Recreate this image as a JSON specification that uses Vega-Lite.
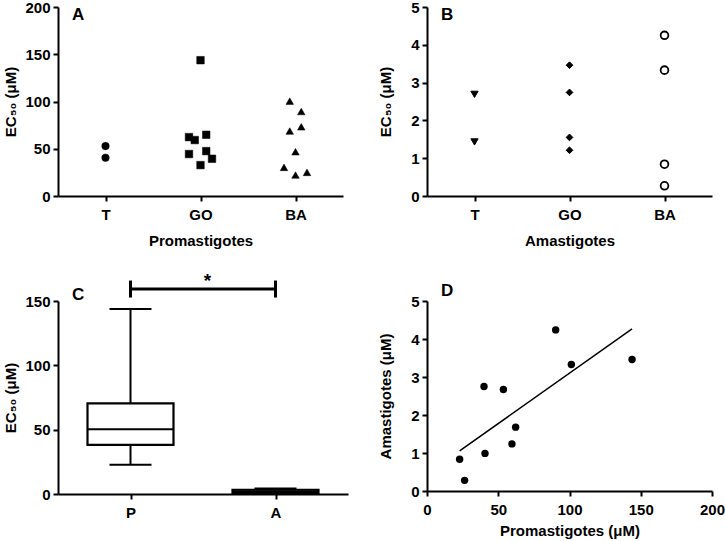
{
  "$schema": "https://vega.github.io/schema/vega-lite/v6.json",
  "background": "white",
  "padding": {"left": 3, "top": 0, "right": 2, "bottom": 2},
  "bounds": "flush",
  "columns": 2,
  "spacing": {"row": 105, "column": 79},
  "resolve": {"scale": {"shape": "independent", "size": "independent", "fill": "independent"}},
  "config": {
    "view": {"stroke": null},
    "font": "Liberation Sans",
    "axis": {
      "domainColor": "black", "domainWidth": 2, "tickColor": "black", "tickWidth": 2, "tickSize": 5,
      "labelFont": "Liberation Sans", "labelFontWeight": "bold", "labelFontSize": 15, "labelColor": "black",
      "titleFont": "Liberation Sans", "titleFontWeight": "bold", "titleFontSize": 15, "titleColor": "black",
      "grid": false, "labelPadding": 3, "labelFlush": false, "labelOverlap": false
    },
    "axisX": {"labelPadding": 6},
    "title": {"font": "Liberation Sans", "fontWeight": "bold", "fontSize": 18, "color": "black", "anchor": "start", "frame": "group"}
  },
  "datasets": {
    "prom": [
      {"group": "T", "ec50": 52.8, "lane": 0}, {"group": "T", "ec50": 40.5, "lane": 0},
      {"group": "GO", "ec50": 143.7, "lane": 0}, {"group": "GO", "ec50": 62.3, "lane": -2},
      {"group": "GO", "ec50": 59.2, "lane": -1}, {"group": "GO", "ec50": 64.8, "lane": 1},
      {"group": "GO", "ec50": 44.4, "lane": -2}, {"group": "GO", "ec50": 47.5, "lane": 1},
      {"group": "GO", "ec50": 39.4, "lane": 2}, {"group": "GO", "ec50": 32.7, "lane": 0},
      {"group": "BA", "ec50": 100.4, "lane": -1}, {"group": "BA", "ec50": 89.4, "lane": 1},
      {"group": "BA", "ec50": 68.7, "lane": -1}, {"group": "BA", "ec50": 73.2, "lane": 1},
      {"group": "BA", "ec50": 46.8, "lane": 0}, {"group": "BA", "ec50": 30.3, "lane": -2},
      {"group": "BA", "ec50": 22.2, "lane": 0}, {"group": "BA", "ec50": 25.0, "lane": 2}
    ],
    "ama": [
      {"group": "T", "ec50": 2.69}, {"group": "T", "ec50": 1.43},
      {"group": "GO", "ec50": 3.46}, {"group": "GO", "ec50": 2.74}, {"group": "GO", "ec50": 1.55}, {"group": "GO", "ec50": 1.21},
      {"group": "BA", "ec50": 4.25}, {"group": "BA", "ec50": 3.33}, {"group": "BA", "ec50": 0.84}, {"group": "BA", "ec50": 0.27}
    ],
    "box": [
      {"stage": "P", "min": 22.7, "q1": 38.2, "median": 50.3, "q3": 70.5, "max": 143.8},
      {"stage": "A", "min": 0.27, "q1": 0.9, "median": 2.2, "q3": 3.3, "max": 4.25}
    ],
    "sig": [{"from": "P", "to": "A", "y": 159.3, "label": "*", "ty": 157.5}],
    "sigEnds": [{"stage": "P", "lo": 152.7, "hi": 165.9}, {"stage": "A", "lo": 152.7, "hi": 165.9}],
    "corr": [
      {"prom": 22.9, "ama": 0.835}, {"prom": 26.4, "ama": 0.28}, {"prom": 40.0, "ama": 2.75},
      {"prom": 40.7, "ama": 0.99}, {"prom": 53.6, "ama": 2.67}, {"prom": 59.6, "ama": 1.24},
      {"prom": 62.2, "ama": 1.68}, {"prom": 90.3, "ama": 4.24}, {"prom": 101.3, "ama": 3.33},
      {"prom": 143.9, "ama": 3.46}
    ]
  },
  "concat": [
    {
      "width": 285, "height": 189,
      "title": {"text": "A", "dx": 14, "offset": -24, "fontSize": 17},
      "data": {"name": "prom"},
      "mark": {"type": "point", "filled": true, "stroke": "black", "strokeWidth": 0.5, "opacity": 1, "size": 57},
      "encoding": {
        "x": {"field": "group", "type": "nominal", "scale": {"type": "point", "padding": 0.5, "domain": ["T", "GO", "BA"]},
              "axis": {"title": "Promastigotes", "labelAngle": 0, "titlePadding": 11}},
        "xOffset": {"field": "lane", "type": "quantitative", "scale": {"domain": [-2, 2], "range": [-11.5, 11.5]}},
        "y": {"field": "ec50", "type": "quantitative", "scale": {"domain": [0, 200], "nice": false},
              "axis": {"title": "EC₅₀ (μM)", "values": [0, 50, 100, 150, 200], "titlePadding": 6}},
        "shape": {"field": "group", "type": "nominal", "scale": {"domain": ["T", "GO", "BA"], "range": ["circle", "square", "triangle-up"]}, "legend": null},
        "fill": {"value": "black"}
      }
    },
    {
      "width": 285, "height": 189,
      "title": {"text": "B", "dx": 14, "offset": -24, "fontSize": 17},
      "data": {"name": "ama"},
      "encoding": {
        "x": {"field": "group", "type": "nominal", "scale": {"type": "point", "padding": 0.5, "domain": ["T", "GO", "BA"]},
              "axis": {"title": "Amastigotes", "labelAngle": 0, "titlePadding": 11}},
        "y": {"field": "ec50", "type": "quantitative", "scale": {"domain": [0, 5], "nice": false},
              "axis": {"title": "EC₅₀ (μM)", "values": [0, 1, 2, 3, 4, 5], "titlePadding": 17}}
      },
      "layer": [
        {
          "transform": [{"filter": "datum.group === 'T'"}],
          "mark": {"type": "point", "shape": "triangle-down", "filled": true, "color": "black", "stroke": "black", "strokeWidth": 1, "size": 52, "opacity": 1}
        },
        {
          "transform": [{"filter": "datum.group === 'GO'"}],
          "mark": {"type": "point", "shape": "diamond", "filled": true, "color": "black", "stroke": "black", "strokeWidth": 1, "size": 45, "opacity": 1}
        },
        {
          "transform": [{"filter": "datum.group === 'BA'"}],
          "mark": {"type": "point", "shape": "circle", "filled": false, "fill": "white", "stroke": "black", "strokeWidth": 1.8, "size": 60, "opacity": 1}
        }
      ]
    },
    {
      "width": 290, "height": 193,
      "title": {"text": "C", "dx": 14, "offset": -32, "fontSize": 17},
      "encoding": {
        "x": {"field": "stage", "type": "nominal", "scale": {"type": "point", "padding": 0.5, "domain": ["P", "A"]},
              "axis": {"title": null, "labelAngle": 0}},
        "y": {"type": "quantitative", "scale": {"domain": [0, 150], "nice": false},
              "axis": {"title": "EC₅₀ (μM)", "values": [0, 50, 100, 150], "titlePadding": 6}}
      },
      "layer": [
        {
          "data": {"name": "box"},
          "mark": {"type": "rule", "color": "black", "strokeWidth": 2},
          "encoding": {
            "y": {"field": "min", "type": "quantitative"},
            "y2": {"field": "max"}
          }
        },
        {
          "data": {"name": "box"},
          "mark": {"type": "bar", "width": 86, "fill": "white", "stroke": "black", "strokeWidth": 2.2},
          "encoding": {
            "y": {"field": "q1", "type": "quantitative"},
            "y2": {"field": "q3"}
          }
        },
        {
          "data": {"name": "box"},
          "mark": {"type": "tick", "color": "black", "size": 86, "thickness": 2, "opacity": 1},
          "encoding": {
            "y": {"field": "median", "type": "quantitative"}
          }
        },
        {
          "data": {"name": "box"},
          "mark": {"type": "tick", "color": "black", "size": 42, "thickness": 2, "opacity": 1},
          "encoding": {
            "y": {"field": "min", "type": "quantitative"}
          }
        },
        {
          "data": {"name": "box"},
          "mark": {"type": "tick", "color": "black", "size": 42, "thickness": 2, "opacity": 1},
          "encoding": {
            "y": {"field": "max", "type": "quantitative"}
          }
        },
        {
          "data": {"name": "sig"},
          "mark": {"type": "rule", "color": "black", "strokeWidth": 3},
          "encoding": {
            "x": {"field": "from", "type": "nominal"},
            "x2": {"field": "to"},
            "y": {"field": "y", "type": "quantitative"}
          }
        },
        {
          "data": {"name": "sigEnds"},
          "mark": {"type": "rule", "color": "black", "strokeWidth": 3},
          "encoding": {
            "y": {"field": "lo", "type": "quantitative"},
            "y2": {"field": "hi"}
          }
        },
        {
          "data": {"name": "sig"},
          "mark": {"type": "text", "font": "Liberation Sans", "fontWeight": "bold", "fontSize": 19, "baseline": "bottom", "color": "black", "dx": 77},
          "encoding": {
            "x": {"field": "from", "type": "nominal"},
            "y": {"field": "ty", "type": "quantitative"},
            "text": {"field": "label"}
          }
        }
      ]
    },
    {
      "width": 285, "height": 190,
      "title": {"text": "D", "dx": 14, "offset": -6, "fontSize": 17},
      "data": {"name": "corr"},
      "encoding": {
        "x": {"field": "prom", "type": "quantitative", "scale": {"domain": [0, 200], "nice": false},
              "axis": {"title": "Promastigotes (μM)", "values": [0, 50, 100, 150, 200], "titlePadding": 6}},
        "y": {"field": "ama", "type": "quantitative", "scale": {"domain": [0, 5], "nice": false},
              "axis": {"title": "Amastigotes (μM)", "values": [0, 1, 2, 3, 4, 5], "titlePadding": 17}}
      },
      "layer": [
        {
          "mark": {"type": "point", "filled": true, "color": "black", "size": 55, "opacity": 1}
        },
        {
          "transform": [{"regression": "ama", "on": "prom"}],
          "mark": {"type": "line", "color": "black", "strokeWidth": 1.5}
        }
      ]
    }
  ]
}
